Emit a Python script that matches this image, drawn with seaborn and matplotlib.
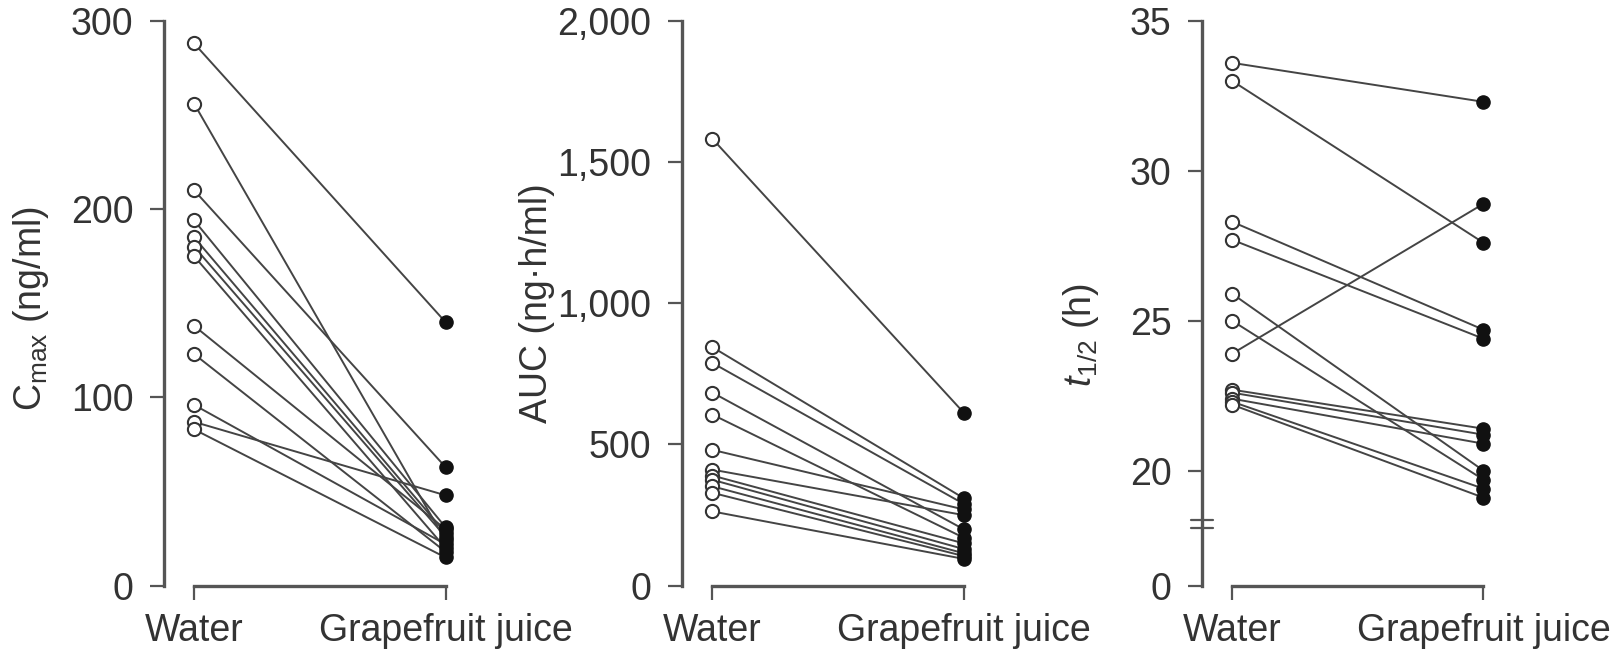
import numpy as np
import pandas as pd
import matplotlib
matplotlib.use("Agg")
import matplotlib.pyplot as plt
import matplotlib.ticker as mticker
import matplotlib.transforms as mtransforms
import seaborn as sns

# values (12 subjects, paired)
conditions = ["Water", "Grapefruit juice"]
subjects = list(range(1, 13))

water_cmax = [288, 256, 210, 194, 185, 180, 175, 138, 123, 96, 87, 83]
gj_cmax = [140, 24, 63, 31, 28, 26, 20, 30, 18, 22, 48, 15]

water_auc = [1583, 845, 789, 684, 606, 481, 411, 390, 375, 352, 329, 263]
gj_auc = [613, 310, 290, 200, 170, 270, 250, 150, 130, 115, 105, 95]

water_t12 = [33.6, 33.0, 28.3, 27.7, 25.9, 25.0, 23.9, 22.7, 22.6, 22.4, 22.3, 22.2]
gj_t12 = [32.3, 27.6, 24.7, 24.4, 20.0, 19.7, 28.9, 21.4, 21.2, 20.9, 19.4, 19.1]

cmax_ticks = [0, 100, 200, 300]
auc_ticks = [0, 500, 1000, 1500, 2000]
t12_ticks = [0, 20, 25, 30, 35]

sns.set_style("ticks")
plt.rcParams["font.family"] = ["Liberation Sans", "DejaVu Sans"]
plt.rcParams["mathtext.fontset"] = "custom"
plt.rcParams["mathtext.rm"] = "Liberation Sans"
plt.rcParams["mathtext.it"] = "Liberation Sans:italic"

FS = 27
SPINE = "#555555"
TEXT = "#333333"
LINE = "#444444"


def long_form(water, gj):
    rows = []
    for s, w, g in zip(subjects, water, gj):
        rows.append({"subject": s, "cond": 0, "value": w})
        rows.append({"subject": s, "cond": 1, "value": g})
    return pd.DataFrame(rows)


fig = plt.figure(figsize=(16.14, 6.56), dpi=100)
lefts = [0.1016, 0.4226, 0.7447]
label_xy = [(-0.368, 0.49), (-0.414, 0.5), (-0.33, 0.444)]
panels = [
    (water_cmax, gj_cmax, cmax_ticks, r"C$_{\rm max}$ (ng/ml)", (0, 300)),
    (water_auc, gj_auc, auc_ticks, "AUC (ng\u00b7h/ml)", (0, 2000)),
    (water_t12, gj_t12, t12_ticks, r"$t_{1/2}$ (h)", (0, 35)),
]

# broken t1/2 axis: linear above b, 0..b squeezed into a short stub
b = 18.0
k = 0.102


def fwd(y):
    y = np.asarray(y, dtype=float)
    return np.where(y >= b, y, b - (b - y) * k)


def inv(t):
    t = np.asarray(t, dtype=float)
    return np.where(t >= b, t, b - (b - t) / k)


for i, (water, gj, ticks, ylabel, ylim) in enumerate(panels):
    ax = fig.add_axes([lefts[i], 0.1072, 0.190, 0.861])
    df = long_form(water, gj)
    if i == 2:
        ax.set_yscale("function", functions=(fwd, inv))
    sns.lineplot(data=df, x="cond", y="value", units="subject", estimator=None,
                 color=LINE, lw=1.4, ax=ax, zorder=2, legend=False)
    sns.scatterplot(data=df[df.cond == 0], x="cond", y="value", ax=ax, s=90,
                    facecolor="white", edgecolor="#333333", linewidth=1.5,
                    zorder=3, clip_on=False)
    sns.scatterplot(data=df[df.cond == 1], x="cond", y="value", ax=ax, s=90,
                    color="#111111", edgecolor="#111111", linewidth=1.0,
                    zorder=3, clip_on=False)
    ax.set_xlim(-0.12, 1.1)
    ax.set_ylim(*ylim)
    ax.set_xticks([0, 1])
    ax.set_xticklabels(conditions)
    ax.set_yticks(ticks)
    if i == 1:
        ax.yaxis.set_major_formatter(mticker.StrMethodFormatter("{x:,.0f}"))
    else:
        ax.yaxis.set_major_formatter(mticker.StrMethodFormatter("{x:.0f}"))
    ax.yaxis.set_minor_locator(mticker.NullLocator())
    ax.set_xlabel("")
    ax.set_ylabel(ylabel, fontsize=FS, color=TEXT)
    ax.yaxis.set_label_coords(*label_xy[i])
    ax.tick_params(axis="both", labelsize=FS, colors=SPINE, labelcolor=TEXT,
                   length=10, width=1.6)
    ax.tick_params(axis="y", pad=12)
    ax.tick_params(axis="x", pad=10)
    sns.despine(ax=ax, trim=True)
    for sp in ("left", "bottom"):
        ax.spines[sp].set_color(SPINE)
        ax.spines[sp].set_linewidth(2.4)
    if i == 2:
        # break marks on the y spine
        trans = mtransforms.blended_transform_factory(ax.transAxes, ax.transData)
        for yb in (18.35, 18.1):
            ax.plot([-0.035, 0.035], [yb, yb], transform=trans, color=SPINE,
                    lw=1.6, clip_on=False, zorder=5)

fig.savefig("out.png", dpi=100)
